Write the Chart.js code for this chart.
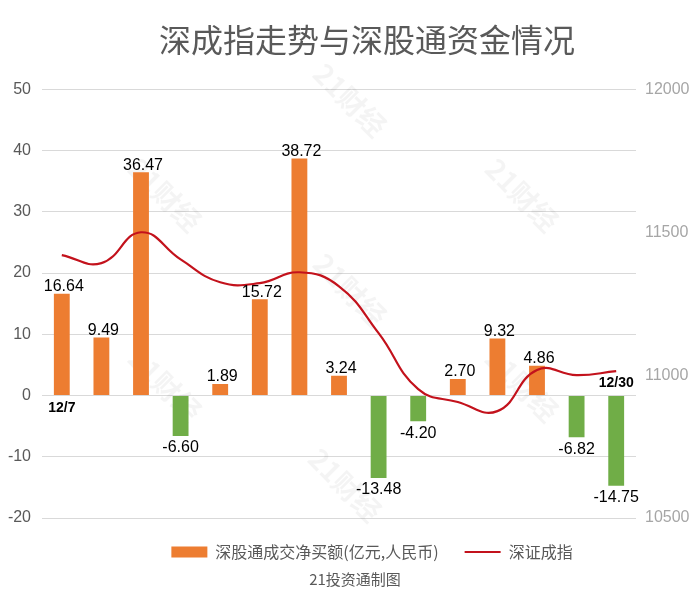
<!DOCTYPE html>
<html>
<head>
<meta charset="utf-8">
<script src="https://cdn.jsdelivr.net/npm/chart.js@4/dist/chart.umd.min.js"></script>
<style>
  html, body { margin: 0; padding: 0; background: #fff; }
  #wrap { width: 700px; height: 606px; position: relative; }
</style>
</head>
<body>
<div id="wrap"><canvas id="myChart"></canvas></div>
<script>
// 日期 (only first and last are printed on the chart)
const dates = ['12/7', '12/8', '12/9', '12/12', '12/13', '12/14', '12/15', '12/16',
               '12/19', '12/20', '12/21', '12/22', '12/23', '12/29', '12/30'];
// 深股通成交净买额 (亿元)
const netBuy = [16.64, 9.49, 36.47, -6.60, 1.89, 15.72, 38.72, 3.24,
                -13.48, -4.20, 2.70, 9.32, 4.86, -6.82, -14.75];
// 深证成指
const szIndex = [11420, 11392, 11500, 11405, 11325, 11322, 11360, 11311,
                 11147, 10951, 10906, 10874, 11018, 11000, 11014];
const leftTicks = [-20, -10, 0, 10, 20, 30, 40, 50];
const rightTicks = [10500, 11000, 11500, 12000];

const ORANGE = '#ed7d31';
const GREEN = '#70ad47';
const RED = '#c3121c';
const TITLE = '深成指走势与深股通资金情况';
const CREDIT = '21投资通制图';

Chart.defaults.font.family = "'Liberation Sans', 'Noto Sans CJK SC', sans-serif";

// faint "21财经" watermark behind the marks
const watermark = {
    id: 'watermark',
    beforeDatasetsDraw(chart) {
        const ctx = chart.ctx;
        const spots = [[350, 100], [165, 195], [522, 195], [350, 290], [165, 385], [522, 385], [345, 485]];
        ctx.save();
        ctx.fillStyle = 'rgba(0,0,0,0.045)';
        ctx.font = "bold 28px 'Noto Sans CJK SC', sans-serif";
        ctx.textAlign = 'center';
        ctx.textBaseline = 'middle';
        spots.forEach(function (p) {
            ctx.save();
            ctx.translate(p[0], p[1]);
            ctx.rotate(Math.PI / 4);
            ctx.fillText('21财经', 0, 0);
            ctx.restore();
        });
        ctx.restore();
    }
};

// value labels on bars + the two date labels next to the zero line
const barLabels = {
    id: 'barLabels',
    afterDatasetsDraw(chart) {
        const ctx = chart.ctx;
        const meta = chart.getDatasetMeta(0);
        const zeroY = chart.scales.y.getPixelForValue(0);
        ctx.save();
        ctx.textAlign = 'center';
        ctx.fillStyle = '#000';
        ctx.font = "16px 'Liberation Sans', sans-serif";
        meta.data.forEach(function (bar, i) {
            const v = netBuy[i];
            if (v >= 0) {
                ctx.textBaseline = 'bottom';
                ctx.fillText(v.toFixed(2), bar.x + 2, bar.y + 1);
            } else {
                ctx.textBaseline = 'top';
                ctx.fillText(v.toFixed(2), bar.x, bar.y + 4);
            }
        });
        ctx.font = "bold 14px 'Liberation Sans', sans-serif";
        [0, dates.length - 1].forEach(function (i) {
            const bar = meta.data[i];
            if (netBuy[i] >= 0) {
                ctx.textBaseline = 'top';
                ctx.fillText(dates[i], bar.x, zeroY + 6);
            } else {
                ctx.textBaseline = 'bottom';
                ctx.fillText(dates[i], bar.x, zeroY - 5);
            }
        });
        ctx.restore();
    }
};

// the original's title / legend / credit are not quite centred on the canvas
const nudge = {
    id: 'nudge',
    afterLayout(chart) {
        chart.boxes.forEach(function (box) {
            let dx = 0;
            if (box === chart.legend) dx = 22;
            else if (box.options && box.options.text === TITLE) dx = 17;
            else if (box.options && box.options.text === CREDIT) dx = 5;
            box.left += dx;
            box.right += dx;
        });
    }
};

const data = {
    labels: dates,
    datasets: [
        {
            type: 'bar',
            label: '深股通成交净买额(亿元,人民币)',
            data: netBuy,
            yAxisID: 'y',
            backgroundColor: function (c) { return c.raw < 0 ? GREEN : ORANGE; },
            barPercentage: 0.4,
            categoryPercentage: 1,
            pointStyle: 'rect',
            order: 1
        },
        {
            type: 'line',
            label: '深证成指',
            data: szIndex,
            yAxisID: 'y1',
            borderColor: RED,
            backgroundColor: RED,
            borderWidth: 2.2,
            pointRadius: 0,
            tension: 0.45,
            pointStyle: 'line',
            order: 0
        }
    ]
};

const config = {
    data: data,
    plugins: [watermark, barLabels, nudge],
    options: {
        responsive: true,
        maintainAspectRatio: false,
        animation: false,
        plugins: {
            title: {
                display: true,
                text: TITLE,
                color: '#595959',
                font: { family: "'Noto Sans CJK SC', sans-serif", size: 32, weight: 'normal' },
                padding: { top: 21, bottom: 30 }
            },
            legend: {
                position: 'bottom',
                labels: {
                    color: '#595959',
                    font: { family: "'Noto Sans CJK SC', sans-serif", size: 16 },
                    usePointStyle: true,
                    pointStyleWidth: 36,
                    boxHeight: 11,
                    padding: 26,
                    sort: function (a, b) { return a.datasetIndex - b.datasetIndex; }
                },
                padding: { top: 20, bottom: 2 }
            },
            subtitle: {
                display: true,
                position: 'bottom',
                text: CREDIT,
                color: '#595959',
                font: { family: "'Noto Sans CJK SC', sans-serif", size: 15 },
                padding: { top: 0, bottom: 18 }
            },
            tooltip: { enabled: false }
        },
        scales: {
            x: {
                display: false,
                offset: true,
                grid: { display: false }
            },
            y: {
                position: 'left',
                min: -20,
                max: 50,
                afterBuildTicks: function (axis) {
                    axis.ticks = leftTicks.map(function (v) { return { value: v }; });
                },
                afterFit: function (axis) { axis.width = 42; },
                ticks: { color: '#595959', font: { size: 16 }, padding: 11 },
                grid: { color: '#d9d9d9', lineWidth: 1, drawTicks: false },
                border: { display: false }
            },
            y1: {
                position: 'right',
                min: 10500,
                max: 12000,
                afterBuildTicks: function (axis) {
                    axis.ticks = rightTicks.map(function (v) { return { value: v }; });
                },
                afterFit: function (axis) { axis.width = 64; },
                ticks: {
                    color: '#a6a6a6',
                    font: { size: 16 },
                    padding: 9,
                    callback: function (v) { return String(v); }
                },
                grid: { display: false, drawTicks: false },
                border: { display: false }
            }
        }
    }
};

const ctx = document.getElementById('myChart').getContext('2d');
new Chart(ctx, config);
</script>
</body>
</html>
